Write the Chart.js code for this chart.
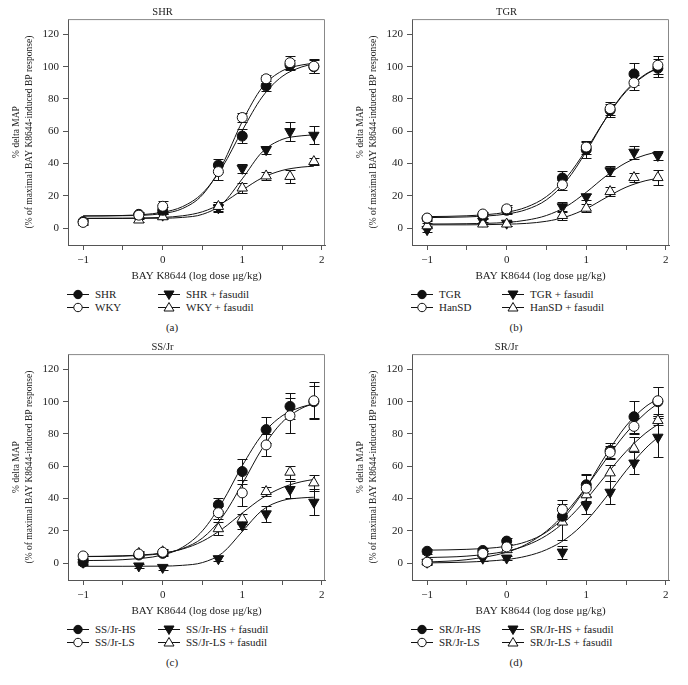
<!DOCTYPE html>
<html>
<head>
<meta charset="utf-8">
<script src="https://cdn.jsdelivr.net/npm/chart.js@4.4.1/dist/chart.umd.min.js"></script>
<style>
  body { margin: 0; background: #fff; font-family: "Liberation Serif", "DejaVu Serif", serif; color: #222; }
  .panel { position: absolute; width: 344px; height: 345px; }
  .panel canvas { position: absolute; left: 0; top: 0; }
  .item { position: absolute; height: 13px; line-height: 13px; font-size: 11px; white-space: nowrap; }
  .item svg { vertical-align: middle; margin-top: -2px; }
  .caption { position: absolute; top: 320px; left: 0; width: 344px; text-align: center; font-size: 11px; line-height: 14px; }
</style>
</head>
<body>
<div class="panel" id="pa" style="left:0;top:0"><canvas id="ca" width="344" height="285"></canvas></div>
<div class="panel" id="pb" style="left:344px;top:0"><canvas id="cb" width="344" height="285"></canvas></div>
<div class="panel" id="pc" style="left:0;top:335px"><canvas id="cc" width="344" height="285"></canvas></div>
<div class="panel" id="pd" style="left:344px;top:335px"><canvas id="cd" width="344" height="285"></canvas></div>
<script>
// doses (log ug/kg) where the points were measured, and where the fitted curves are read
const doses = [-1, -0.3, 0, 0.7, 1, 1.3, 1.6, 1.9];
const fitDoses = [-1, -0.5, 0, 0.25, 0.5, 0.75, 1, 1.25, 1.5, 1.75, 1.9];
const xTicks = [-1, -0.5, 0, 0.5, 1, 1.5, 2];
const yTicks = [0, 20, 40, 60, 80, 100, 120];

const panelTitles = ['SHR', 'TGR', 'SS/Jr', 'SR/Jr'];
const captions = ['(a)', '(b)', '(c)', '(d)'];
const xTitle = 'BAY K8644 (log dose \u03bcg/kg)';
const yTitle = ['% delta MAP', '(% of maximal BAY K8644-induced BP response)'];

// (a) SHR
const namesA = ['SHR', 'WKY', 'SHR + fasudil', 'WKY + fasudil'];
const shrMean = [4, 8.5, 11, 39, 57, 88, 101, 100];
const shrErr = [1.5, 1.5, 2, 4, 4.5, 3, 3, 4];
const wkyMean = [3.5, 8, 13.5, 35, 68.5, 92.5, 102.5, 100.3];
const wkyErr = [1.5, 1.5, 3, 5, 3, 2.5, 4, 4.5];
const shrFasMean = [null, 7, 8, 12.5, 37, 48.6, 59.8, 57.5];
const shrFasErr = [0, 1.5, 1.5, 2.5, 3, 2.5, 6, 5.5];
const wkyFasMean = [null, 5, 7, 13.4, 24.8, 32.3, 32, 41.2];
const wkyFasErr = [0, 1.5, 1.5, 3, 3, 2.5, 4, 2];
const shrFit = [7.5, 7.8, 9.8, 13.3, 21.6, 37.8, 60.5, 81.2, 93.9, 99.9, 101.7];
const wkyFit = [7.5, 7.65, 9.0, 12.1, 20.6, 39.4, 66.0, 87.1, 97.4, 101.1, 102.1];
const shrFasFit = [6, 6, 6.1, 6.6, 8.5, 15.1, 30.5, 47.1, 54.9, 57.2, 57.7];
const wkyFasFit = [6, 6.1, 6.6, 7.6, 10.1, 15.5, 23.5, 31.1, 35.7, 37.8, 38.3];

// (b) TGR
const namesB = ['TGR', 'HanSD', 'TGR + fasudil', 'HanSD + fasudil'];
const tgrMean = [6, 8, 11, 31, 48.5, 73, 95.5, 99];
const tgrErr = [1.5, 1.5, 2, 4.5, 5, 4, 7, 5.5];
const hanMean = [6.2, 8.7, 11.9, 26.8, 50.2, 74, 90.1, 100.9];
const hanErr = [1.5, 1.5, 2.5, 3, 4, 4, 4.6, 5.5];
const tgrFasMean = [-1, 4.3, 3, 13.2, 19.4, 35.5, 47, 45];
const tgrFasErr = [1.5, 1.5, 1.5, 3, 2, 3, 4, 3];
const hanFasMean = [1.4, 2.5, 2.5, 7.8, 12.3, 22.6, 31.3, 31.3];
const hanFasErr = [1.5, 1, 1, 3, 2.5, 3, 3, 4.5];
const tgrFit = [7.1, 7.6, 9.8, 13.0, 19.5, 31.2, 48.6, 68.2, 84.6, 95.1, 99.0];
const hanFit = [6.5, 6.9, 8.7, 11.5, 17.5, 29.2, 47.4, 68.2, 85.2, 95.5, 99.2];
const tgrFasFit = [2.5, 2.7, 3.5, 4.9, 7.8, 13.4, 22.2, 32.3, 40.5, 45.4, 47.2];
const hanFasFit = [2, 2, 2.4, 2.9, 4.2, 7.0, 12.0, 18.9, 25.3, 29.4, 30.8];

// (c) SS/Jr
const namesC = ['SS/Jr-HS', 'SS/Jr-LS', 'SS/Jr-HS + fasudil', 'SS/Jr-LS + fasudil'];
const ssHsMean = [0.5, 5, 6, 36.1, 56.7, 82.7, 97.1, 100];
const ssHsErr = [1.5, 1.5, 1.5, 4, 7.5, 8, 8, 10];
const ssLsMean = [4.4, 5.6, 6.7, 31.2, 43.5, 73.2, 91.3, 100.6];
const ssLsErr = [1.5, 1.5, 1.5, 4, 8, 7, 11, 11.5];
const ssHsFasMean = [0.5, -1.8, -2.7, 2.7, 23.3, 30.5, 45.6, 37.7];
const ssHsFasErr = [1, 1.5, 1.5, 1.5, 2, 5, 5, 8];
const ssLsFasMean = [null, 6, 7, 21.3, 27.4, 44.3, 56.3, 49.7];
const ssLsFasErr = [0, 1.5, 1.5, 4, 3, 3, 4, 5];
const ssHsFit = [1.5, 2.1, 5.0, 9.8, 20.0, 37.8, 60.3, 79.5, 91.2, 96.8, 98.6];
const ssLsFit = [4, 4.3, 6.0, 9.0, 15.5, 28.6, 49.0, 70.9, 87.2, 96.0, 98.8];
const ssHsFasFit = [-2, -2, -1.9, -1.4, 0.3, 6.2, 19.5, 32.7, 38.7, 40.4, 40.8];
const ssLsFasFit = [4.1, 4.5, 6.2, 8.7, 13.5, 21.2, 31.0, 40.2, 46.7, 50.5, 51.8];

// (d) SR/Jr
const namesD = ['SR/Jr-HS', 'SR/Jr-LS', 'SR/Jr-HS + fasudil', 'SR/Jr-LS + fasudil'];
const srHsMean = [7.3, 7.8, 13.6, 29, 48.5, 69.7, 90.7, 100];
const srHsErr = [1.5, 1.5, 2, 5, 7, 4.5, 10, 9];
const srLsMean = [0.5, 6, 10, 33.2, 46.4, 68.6, 84.7, 100.6];
const srLsErr = [2, 1.5, 2, 6, 8, 4, 5, 8.5];
const srHsFasMean = [0.5, 3, 3.1, 6.8, 35.7, 43.9, 62, 78];
const srHsFasErr = [1, 1.5, 1.5, 4, 5, 7, 7, 12];
const srLsFasMean = [1, 5.8, 8.3, 25.4, 42.3, 55.9, 71.1, 88.3];
const srLsFasErr = [1, 1.5, 1.5, 11, 5, 5, 7, 3];
const srHsFit = [8, 8.5, 10.4, 13.3, 19.2, 30.0, 47.0, 67.2, 85.0, 97.1, 101.6];
const srLsFit = [0.6, 2.1, 6.7, 11.7, 19.8, 31.7, 47.2, 64.4, 80.5, 93.2, 98.9];
const srHsFasFit = [0.1, 0.6, 2.2, 4.3, 8.3, 15.2, 26.1, 40.9, 57.2, 71.3, 77.9];
const srLsFasFit = [3.4, 4.3, 7.4, 11.0, 17.1, 26.5, 39.5, 54.6, 69.1, 80.7, 85.9];

const FONT = '"Liberation Serif", "DejaVu Serif", serif';
const INK = '#111';
const AXIS = '#555';

// filled circle, open circle, filled down triangle, open up triangle
const markers = [
  { pointStyle: 'circle', radius: 5, rotation: 0, fill: INK },
  { pointStyle: 'circle', radius: 5, rotation: 0, fill: '#fff' },
  { pointStyle: 'triangle', radius: 6, rotation: 180, fill: INK },
  { pointStyle: 'triangle', radius: 6, rotation: 0, fill: '#fff' }
];
// open circle on top, then filled circle, then triangles
const drawOrder = [1, 0, 3, 2];

// error bars drawn under the markers
const errorBars = {
  id: 'errorBars',
  beforeDatasetsDraw(chart) {
    const ctx = chart.ctx;
    const xs = chart.scales.x, ys = chart.scales.y;
    ctx.save();
    ctx.strokeStyle = INK;
    ctx.lineWidth = 1;
    chart.data.datasets.forEach(function(ds) {
      if (!ds.errors) return;
      ds.data.forEach(function(pt, i) {
        const e = ds.errors[i];
        if (pt.y == null || !e) return;
        const x = Math.round(xs.getPixelForValue(pt.x)) + 0.5;
        const y1 = Math.round(ys.getPixelForValue(pt.y + e)) + 0.5;
        const y2 = Math.round(ys.getPixelForValue(pt.y - e)) + 0.5;
        ctx.beginPath();
        ctx.moveTo(x, y1); ctx.lineTo(x, y2);
        ctx.moveTo(x - 5, y1); ctx.lineTo(x + 5, y1);
        ctx.moveTo(x - 5, y2); ctx.lineTo(x + 5, y2);
        ctx.stroke();
      });
    });
    ctx.restore();
  }
};

// closes the plot box on the top and right
const frame = {
  id: 'frame',
  beforeDatasetsDraw(chart) {
    const a = chart.chartArea, ctx = chart.ctx;
    ctx.save();
    ctx.strokeStyle = '#888';
    ctx.lineWidth = 1;
    ctx.beginPath();
    ctx.moveTo(a.left, a.top + 0.5);
    ctx.lineTo(a.right - 0.5, a.top + 0.5);
    ctx.lineTo(a.right - 0.5, a.bottom);
    ctx.stroke();
    ctx.restore();
  }
};

function legendSvg(m) {
  let shape;
  if (m.pointStyle === 'circle') {
    shape = '<circle cx="12" cy="6.5" r="4.2" fill="' + m.fill + '" stroke="' + INK + '" stroke-width="1"/>';
  } else if (m.rotation === 180) {
    shape = '<polygon points="12,11.5 17,3 7,3" fill="' + m.fill + '" stroke="' + INK + '" stroke-width="1"/>';
  } else {
    shape = '<polygon points="12,1.5 17,10 7,10" fill="' + m.fill + '" stroke="' + INK + '" stroke-width="1"/>';
  }
  return '<svg width="24" height="13"><line x1="1" y1="6.5" x2="23" y2="6.5" stroke="' + INK + '" stroke-width="1"/>' + shape + '</svg>';
}

function buildPanel(panelId, canvasId, idx, names, means, errs, fits) {
  const datasets = [];
  for (let s = 0; s < 4; s++) {
    const m = markers[s];
    datasets.push({
      label: names[s],
      data: doses.map(function(d, i) { return { x: d, y: means[s][i] }; }),
      errors: errs[s],
      showLine: false,
      pointStyle: m.pointStyle,
      pointRadius: m.radius,
      pointRotation: m.rotation,
      pointBackgroundColor: m.fill,
      pointBorderColor: INK,
      pointBorderWidth: 1,
      order: drawOrder[s]
    });
  }
  for (let s = 0; s < 4; s++) {
    datasets.push({
      label: names[s] + ' fit',
      data: fitDoses.map(function(d, i) { return { x: d, y: fits[s][i] }; }),
      showLine: true,
      pointRadius: 0,
      borderColor: INK,
      borderWidth: 1,
      cubicInterpolationMode: 'monotone',
      order: 10
    });
  }

  new Chart(document.getElementById(canvasId), {
    type: 'scatter',
    data: { datasets: datasets },
    options: {
      responsive: false,
      animation: false,
      layout: { padding: { left: 0, right: 19, top: 0, bottom: 0 } },
      plugins: {
        legend: { display: false },
        tooltip: { enabled: false },
        title: {
          display: true,
          text: panelTitles[idx],
          color: '#222',
          font: { family: FONT, size: 10.5, weight: 'normal' },
          padding: { top: 6, bottom: 0.5 }
        }
      },
      scales: {
        x: {
          type: 'linear',
          min: -1.19,
          max: 2.04,
          afterBuildTicks: function(scale) { scale.ticks = xTicks.map(function(v) { return { value: v }; }); },
          afterFit: function(scale) { scale.height = 40; },
          grid: { drawOnChartArea: false, tickLength: 5, color: AXIS },
          border: { color: AXIS },
          ticks: {
            autoSkip: false, maxRotation: 0, padding: 4, color: '#222',
            font: { family: FONT, size: 11 },
            callback: function(v) {
              if (!Number.isInteger(v)) return '';
              return v < 0 ? '\u2212' + (-v) : String(v);
            }
          },
          title: {
            display: true, text: xTitle, color: '#222',
            font: { family: FONT, size: 11 },
            padding: { top: 0, bottom: 2 }
          }
        },
        y: {
          min: -10.5,
          max: 129.5,
          afterBuildTicks: function(scale) { scale.ticks = yTicks.map(function(v) { return { value: v }; }); },
          afterFit: function(scale) { scale.width = 68; },
          grid: { drawOnChartArea: false, tickLength: 5, color: AXIS },
          border: { color: AXIS },
          ticks: { padding: 4, color: '#222', font: { family: FONT, size: 11 } },
          title: {
            display: true, text: yTitle, color: '#222',
            font: { family: FONT, size: 9.5, lineHeight: 1.37 },
            padding: { top: 9.5, bottom: 0 }
          }
        }
      }
    },
    plugins: [errorBars, frame]
  });

  // legend under the plot: two columns, two rows
  const panel = document.getElementById(panelId);
  const cols = [66, 157];
  const rows = [288, 301];
  for (let s = 0; s < 4; s++) {
    const item = document.createElement('div');
    item.className = 'item';
    item.style.left = cols[Math.floor(s / 2)] + 'px';
    item.style.top = rows[s % 2] + 'px';
    item.innerHTML = legendSvg(markers[s]) + '<span style="margin-left:5px">' + names[s] + '</span>';
    panel.appendChild(item);
  }
  const cap = document.createElement('div');
  cap.className = 'caption';
  cap.textContent = captions[idx];
  panel.appendChild(cap);
}

buildPanel('pa', 'ca', 0, namesA,
  [shrMean, wkyMean, shrFasMean, wkyFasMean],
  [shrErr, wkyErr, shrFasErr, wkyFasErr],
  [shrFit, wkyFit, shrFasFit, wkyFasFit]);
buildPanel('pb', 'cb', 1, namesB,
  [tgrMean, hanMean, tgrFasMean, hanFasMean],
  [tgrErr, hanErr, tgrFasErr, hanFasErr],
  [tgrFit, hanFit, tgrFasFit, hanFasFit]);
buildPanel('pc', 'cc', 2, namesC,
  [ssHsMean, ssLsMean, ssHsFasMean, ssLsFasMean],
  [ssHsErr, ssLsErr, ssHsFasErr, ssLsFasErr],
  [ssHsFit, ssLsFit, ssHsFasFit, ssLsFasFit]);
buildPanel('pd', 'cd', 3, namesD,
  [srHsMean, srLsMean, srHsFasMean, srLsFasMean],
  [srHsErr, srLsErr, srHsFasErr, srLsFasErr],
  [srHsFit, srLsFit, srHsFasFit, srLsFasFit]);
</script>
</body>
</html>
